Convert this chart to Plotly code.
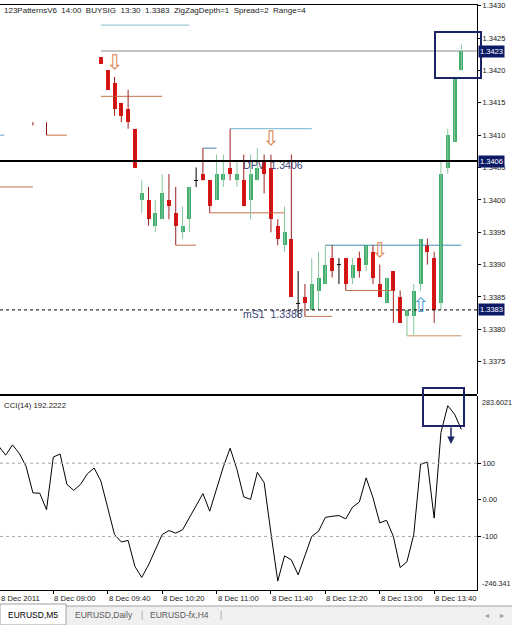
import plotly.graph_objects as go
import pandas as pd

W, H = 512, 625

# ---------------- data ----------------
bar_times = list(pd.date_range("2011-12-08 09:35", periods=54, freq="5min"))
opens = [1.3422, 1.3420, 1.3418, 1.3415, 1.3414, 1.3411, 1.3400, 1.3400, 1.3396, 1.3397,
         1.3400, 1.3398, 1.3395, 1.3397, 1.3403, 1.3404, 1.3403, 1.3400, 1.3403, 1.3405,
         1.3403, 1.3403, 1.3400, 1.3403, 1.3406, 1.3405, 1.3396, 1.3393, 1.3394, 1.3384,
         1.3385, 1.3383, 1.3386, 1.3387, 1.3391, 1.3390, 1.3391, 1.3388, 1.3391, 1.3390,
         1.3392, 1.3387, 1.3384, 1.3389, 1.3385, 1.3382, 1.3382, 1.3387, 1.3393, 1.3391,
         1.3384, 1.3405, 1.3409, 1.3420]
highs = [1.3422, 1.3420, 1.3419, 1.3415, 1.3417, 1.3411, 1.3403, 1.3402, 1.3400, 1.3404,
         1.3404, 1.3402, 1.3399, 1.3402, 1.3405, 1.3408, 1.3403, 1.3407, 1.3407, 1.3411,
         1.3406, 1.3407, 1.3407, 1.3408, 1.3407, 1.3407, 1.3397, 1.3399, 1.3407, 1.3389,
         1.3387, 1.3391, 1.3392, 1.3393, 1.3393, 1.3391, 1.3391, 1.3391, 1.3392, 1.3393,
         1.3393, 1.3390, 1.3388, 1.3389, 1.3386, 1.3383, 1.3387, 1.3394, 1.3394, 1.3392,
         1.3406, 1.3411, 1.3419, 1.3424]
lows = [1.3421, 1.3417, 1.3413, 1.3412, 1.3411, 1.3405, 1.3398, 1.3396, 1.3395, 1.3397,
        1.3397, 1.3393, 1.3394, 1.3395, 1.3402, 1.3403, 1.3398, 1.3400, 1.3402, 1.3403,
        1.3402, 1.3399, 1.3397, 1.3403, 1.3401, 1.3395, 1.3393, 1.3392, 1.3385, 1.3382,
        1.3382, 1.3383, 1.3383, 1.3387, 1.3388, 1.3387, 1.3386, 1.3387, 1.3388, 1.3389,
        1.3387, 1.3385, 1.3384, 1.3381, 1.3381, 1.3379, 1.3379, 1.3386, 1.3390, 1.3381,
        1.3383, 1.3404, 1.3409, 1.3420]
closes = [1.3421, 1.3417, 1.3414, 1.3413, 1.3412, 1.3405, 1.3401, 1.3397, 1.3398, 1.3401,
          1.3399, 1.3396, 1.3396, 1.3402, 1.3403, 1.3403, 1.3399, 1.3404, 1.3404, 1.3404,
          1.3404, 1.3399, 1.3404, 1.3405, 1.3404, 1.3397, 1.3394, 1.3395, 1.3385, 1.3384,
          1.3384, 1.3387, 1.3388, 1.3390, 1.3389, 1.3390, 1.3387, 1.3390, 1.3389, 1.3393,
          1.3388, 1.3385, 1.3388, 1.3386, 1.3381, 1.3383, 1.3386, 1.3394, 1.3392, 1.3383,
          1.3404, 1.3410, 1.3419, 1.3423]

cci_times = list(pd.date_range("2011-12-08 08:20", periods=69, freq="5min"))
cci_values = [146, 122, 150, 127, 91, 19, 18, -27,
              117, 125, 42, 26, 42, 71, 87, 51, -22, -95, -115, -111,
              -182, -212, -178, -137, -95, -84, -91, -82, -50, -16, 17, -31,
              33, 90, 141, 83, 8, 1, 75, 47, -91, -222, -153, -164,
              -205, -150, -100, -86, -48, -45, -43, -52, -20, -6, 60, 6,
              -63, -56, -100, -185, -169, -95, 97, 103, -50, 184, 257, 234,
              192.2222]

price_ticks = [1.3430, 1.3425, 1.3420, 1.3415, 1.3410, 1.3405, 1.3400,
               1.3395, 1.3390, 1.3385, 1.3380, 1.3375]
cci_ticks = [100, 0, -100]
cci_tick_labels = ["100", "0.00", "-100"]
cci_max, cci_min = 283.6021, -246.341
cci_levels = [100, -100]

time_ticks = ["2011-12-08 08:20", "2011-12-08 09:00", "2011-12-08 09:40",
              "2011-12-08 10:20", "2011-12-08 11:00", "2011-12-08 11:40",
              "2011-12-08 12:20", "2011-12-08 13:00", "2011-12-08 13:40"]
time_labels = ["8 Dec 2011", "8 Dec 09:00", "8 Dec 09:40", "8 Dec 10:20",
               "8 Dec 11:00", "8 Dec 11:40", "8 Dec 12:20", "8 Dec 13:00",
               "8 Dec 13:40"]

# indicator horizontal segments: start, end, price, colour
seg_start = ["2011-12-08 09:35", "2011-12-08 09:35", "2011-12-08 09:35",
             "2011-12-08 08:20", "2011-12-08 08:55", "2011-12-08 08:20",
             "2011-12-08 10:50", "2011-12-08 11:10", "2011-12-08 10:55",
             "2011-12-08 10:30", "2011-12-08 12:05", "2011-12-08 12:20",
             "2011-12-08 12:35", "2011-12-08 13:20"]
seg_end = ["2011-12-08 10:40", "2011-12-08 14:12", "2011-12-08 10:20",
           "2011-12-08 08:24", "2011-12-08 09:10", "2011-12-08 08:45",
           "2011-12-08 11:00", "2011-12-08 12:10", "2011-12-08 11:50",
           "2011-12-08 10:45", "2011-12-08 12:25", "2011-12-08 14:00",
           "2011-12-08 13:10", "2011-12-08 14:00"]
seg_price = [1.3427, 1.3423, 1.3416, 1.3410, 1.3410, 1.3402, 1.3408, 1.3411,
             1.3398, 1.3393, 1.3382, 1.3393, 1.3386, 1.3379]
seg_color = ["#8db7cc", "#8a8a8a", "#c4714a", "#6aa8c8", "#c4714a", "#c4714a",
             "#4a84a8", "#74b0d0", "#c4714a", "#c4714a", "#c4714a", "#3d8fae",
             "#c4714a", "#c9966c"]
# small vertical indicator marks: time, price from, price to
vseg_time = ["2011-12-08 08:55", "2011-12-08 08:45"]
vseg_p0 = [1.3410, 1.34115]
vseg_p1 = [1.3412, 1.3412]

# signal arrows
dn_arrow_time = ["2011-12-08 09:45", "2011-12-08 11:40", "2011-12-08 13:00"]
dn_arrow_price = [1.3421, 1.34092, 1.3392]
up_arrow_time = ["2011-12-08 13:30"]
up_arrow_price = [1.33835]

pivot_level = 1.3406
ms1_level = 1.3383
bid_level = 1.3423
level_label_time = "2011-12-08 11:19:30"
title_text = "123PatternsV6  14:00  BUYSIG  13:30  1.3383  ZigZagDepth=1  Spread=2  Range=4"
cci_title = "CCI(14) 192.2222"

# ---------------- layout constants ----------------
PLOT_R = 477 / W
def py(p):
    return 1 - p / H

X_RANGE = ["2011-12-08 08:20:48", "2011-12-08 14:11:30"]
Y_RANGE = [1.337001, 1.343011]
BODY_MS = 176000
FONT = "Liberation Sans"
NAVY = "#1c2366"

BULL, BEAR = "#3fae6c", "#e81212"
BULL_WICK, BEAR_WICK = "#86c79c", "#9e2020"

fig = go.Figure()

n = len(opens)
bull = [i for i in range(n) if closes[i] > opens[i] + 1e-9]
bear = [i for i in range(n) if closes[i] < opens[i] - 1e-9]
doji = [i for i in range(n) if abs(closes[i] - opens[i]) <= 1e-9]


def wicks(idx):
    xs, ys = [], []
    for i in idx:
        xs += [bar_times[i], bar_times[i], None]
        ys += [lows[i], highs[i], None]
    return xs, ys

# level labels (drawn beneath the candles)
fig.add_trace(go.Scatter(x=[level_label_time, level_label_time], y=[pivot_level, ms1_level],
                         mode="text",
                         text=[f"DPV\u00a0\u00a0{pivot_level:.4f}", f"mS1\u00a0\u00a0{ms1_level:.4f}"],
                         textposition="bottom right",
                         textfont=dict(family=FONT, size=10.5, color="#3b4476"),
                         hoverinfo="skip", showlegend=False))

# indicator segments
for col in dict.fromkeys(seg_color):
    xs, ys = [], []
    for s, e, p, c in zip(seg_start, seg_end, seg_price, seg_color):
        if c == col:
            xs += [s, e, None]
            ys += [p, p, None]
    fig.add_trace(go.Scatter(x=xs, y=ys, mode="lines", line=dict(color=col, width=1),
                             hoverinfo="skip", showlegend=False))
xs, ys = [], []
for t, a, b in zip(vseg_time, vseg_p0, vseg_p1):
    xs += [t, t, None]
    ys += [a, b, None]
fig.add_trace(go.Scatter(x=xs, y=ys, mode="lines", line=dict(color="#8b1010", width=1),
                         hoverinfo="skip", showlegend=False))

# wicks
for idx, col in [(bull, BULL_WICK), (bear, BEAR_WICK), (doji, "#000000")]:
    wx, wy = wicks(idx)
    fig.add_trace(go.Scatter(x=wx, y=wy, mode="lines", line=dict(color=col, width=1),
                             hoverinfo="skip", showlegend=False))

# bodies
for idx, col in [(bull, BULL), (bear, BEAR)]:
    fig.add_trace(go.Bar(x=[bar_times[i] for i in idx],
                         y=[abs(closes[i] - opens[i]) for i in idx],
                         base=[min(opens[i], closes[i]) for i in idx],
                         width=BODY_MS, marker=dict(color=col, line=dict(width=0)),
                         hoverinfo="skip", showlegend=False))
# doji bodies
dx, dy = [], []
for i in doji:
    t = bar_times[i]
    dx += [t - pd.Timedelta(milliseconds=BODY_MS / 2), t + pd.Timedelta(milliseconds=BODY_MS / 2), None]
    dy += [opens[i], opens[i], None]
fig.add_trace(go.Scatter(x=dx, y=dy, mode="lines", line=dict(color="#000000", width=1),
                         hoverinfo="skip", showlegend=False))

# arrows
fig.add_trace(go.Scatter(x=dn_arrow_time, y=dn_arrow_price, mode="text", text=["⇩"] * len(dn_arrow_time),
                         textfont=dict(family="DejaVu Sans", size=20, color="#d9824b"),
                         textposition="middle center", hoverinfo="skip", showlegend=False))
fig.add_trace(go.Scatter(x=up_arrow_time, y=up_arrow_price, mode="text", text=["⇧"] * len(up_arrow_time),
                         textfont=dict(family="DejaVu Sans", size=20, color="#4a9fd4"),
                         textposition="middle center", hoverinfo="skip", showlegend=False))

# CCI line
fig.add_trace(go.Scatter(x=cci_times, y=cci_values, mode="lines", xaxis="x2", yaxis="y2",
                         line=dict(color="#000000", width=1), hoverinfo="skip", showlegend=False))

shapes = []
shapes.append(dict(type="line", xref="x domain", yref="y", x0=0, x1=1, y0=pivot_level, y1=pivot_level,
                   line=dict(color="#000000", width=2)))
shapes.append(dict(type="line", xref="x domain", yref="y", x0=0, x1=1, y0=ms1_level, y1=ms1_level,
                   line=dict(color="#000000", width=1, dash="dot")))
for lv in cci_levels:
    shapes.append(dict(type="line", xref="x2 domain", yref="y2", x0=0, x1=1, y0=lv, y1=lv,
                       line=dict(color="#a8a8a8", width=1, dash="dot")))
shapes.append(dict(type="line", xref="paper", yref="paper", x0=0, x1=PLOT_R, y0=py(395), y1=py(395),
                   line=dict(color="#000000", width=2)))
shapes.append(dict(type="rect", xref="paper", yref="paper", x0=435 / W, x1=481 / W, y0=py(78), y1=py(32),
                   line=dict(color=NAVY, width=2)))
shapes.append(dict(type="rect", xref="paper", yref="paper", x0=423 / W, x1=464 / W, y0=py(426), y1=py(388),
                   line=dict(color=NAVY, width=2)))
shapes.append(dict(type="rect", xref="paper", yref="paper", x0=0, x1=1, y0=0, y1=py(606),
                   fillcolor="#f0f0f0", line=dict(width=0), layer="below"))
shapes.append(dict(type="line", xref="paper", yref="paper", x0=66 / W, x1=1, y0=py(606), y1=py(606),
                   line=dict(color="#a0a0a0", width=1)))
shapes.append(dict(type="rect", xref="paper", yref="paper", x0=0, x1=66 / W, y0=0, y1=py(604),
                   fillcolor="#ffffff", line=dict(color="#a0a0a0", width=1)))

ann = []
ann.append(dict(xref="paper", yref="paper", x=2 / W, y=py(11), xanchor="left", yanchor="middle",
                text=title_text.replace(" ", "\u00a0"), showarrow=False,
                font=dict(family=FONT, size=8, color="#1a1a1a")))
ann.append(dict(xref="paper", yref="paper", x=2 / W, y=py(405), xanchor="left", yanchor="middle",
                text=cci_title, showarrow=False, font=dict(family=FONT, size=7.8, color="#1a1a1a")))
for lvl in [bid_level, pivot_level, ms1_level]:
    ann.append(dict(xref="paper", yref="y", x=478 / W, y=lvl, xanchor="left", yanchor="middle",
                    text=f"{lvl:.4f}", showarrow=False, bgcolor="#0d1b66", borderpad=1,
                    font=dict(family=FONT, size=7.5, color="#ffffff")))
ann.append(dict(xref="paper", yref="y2", x=480 / W, y=cci_max, xanchor="left", yanchor="top",
                text=f"{cci_max:.4f}", showarrow=False, font=dict(family=FONT, size=7.2, color="#1a1a1a")))
ann.append(dict(xref="paper", yref="y2", x=480 / W, y=cci_min, xanchor="left", yanchor="bottom",
                text=f"{cci_min:.3f}", showarrow=False, font=dict(family=FONT, size=7.2, color="#1a1a1a")))
x_start = pd.Timestamp(X_RANGE[0])
for t, lab in zip(time_ticks, time_labels):
    tt = max(pd.Timestamp(t), x_start)
    ann.append(dict(xref="x2", yref="paper", x=tt.strftime("%Y-%m-%d %H:%M:%S"), y=py(598),
                    xanchor="left", yanchor="middle", xshift=-1,
                    text=lab.replace(" ", "\u00a0"), showarrow=False,
                    font=dict(family=FONT, size=7.7, color="#1a1a1a")))
ann.append(dict(xref="paper", yref="paper", x=451 / W, y=py(444), ax=0, ay=-18, text="",
                showarrow=True, arrowhead=2, arrowsize=1, arrowwidth=1.5, arrowcolor=NAVY))
for txt, xx, col in [("EURUSD,M5", 6, "#000000"), ("EURUSD,Daily", 73, "#5a5a5a"),
                     ("|", 139, "#9a9a9a"), ("EURUSD-fx,H4", 148, "#5a5a5a"), ("|", 218, "#9a9a9a")]:
    ann.append(dict(xref="paper", yref="paper", x=xx / W, y=py(615), xanchor="left", yanchor="middle",
                    text=txt, showarrow=False, font=dict(family=FONT, size=8.5, color=col)))
for txt, xx in [("◂", 487), ("▸", 502)]:
    ann.append(dict(xref="paper", yref="paper", x=xx / W, y=py(615), xanchor="center", yanchor="middle",
                    text=txt, showarrow=False, font=dict(family="DejaVu Sans", size=8, color="#9a9a9a")))

fig.update_layout(
    width=W, height=H, margin=dict(l=0, r=0, t=0, b=0),
    paper_bgcolor="#ffffff", plot_bgcolor="#ffffff",
    barmode="overlay", bargap=0, showlegend=False,
    shapes=shapes, annotations=ann,
    xaxis=dict(domain=[0, PLOT_R], range=X_RANGE, type="date", anchor="y", side="top",
               showline=True, linecolor="#000000", linewidth=1, showticklabels=False,
               ticks="", showgrid=False, zeroline=False, fixedrange=True),
    xaxis2=dict(domain=[0, PLOT_R], range=X_RANGE, type="date", anchor="y2", side="bottom",
                showline=True, linecolor="#000000", linewidth=1, ticks="outside", ticklen=3,
                tickcolor="#000000", tickvals=time_ticks, showticklabels=False,
                showgrid=False, zeroline=False, fixedrange=True),
    yaxis=dict(domain=[py(394), py(5)], range=Y_RANGE, anchor="x", side="right",
               tickvals=price_ticks, ticktext=[f"{v:.4f}" for v in price_ticks],
               ticks="outside", ticklen=3, tickcolor="#000000", showline=True,
               linecolor="#000000", linewidth=1, showgrid=False, zeroline=False,
               tickfont=dict(family=FONT, size=7.5, color="#1a1a1a"), automargin=False,
               fixedrange=True),
    yaxis2=dict(domain=[py(590), py(396)], range=[cci_min, cci_max], anchor="x2", side="right",
                tickvals=cci_ticks, ticktext=cci_tick_labels,
                ticks="outside", ticklen=3, tickcolor="#000000", showline=True,
                linecolor="#000000", linewidth=1, showgrid=False, zeroline=False,
                tickfont=dict(family=FONT, size=7.5, color="#1a1a1a"), automargin=False,
                fixedrange=True),
)

fig.write_html("out.html")
